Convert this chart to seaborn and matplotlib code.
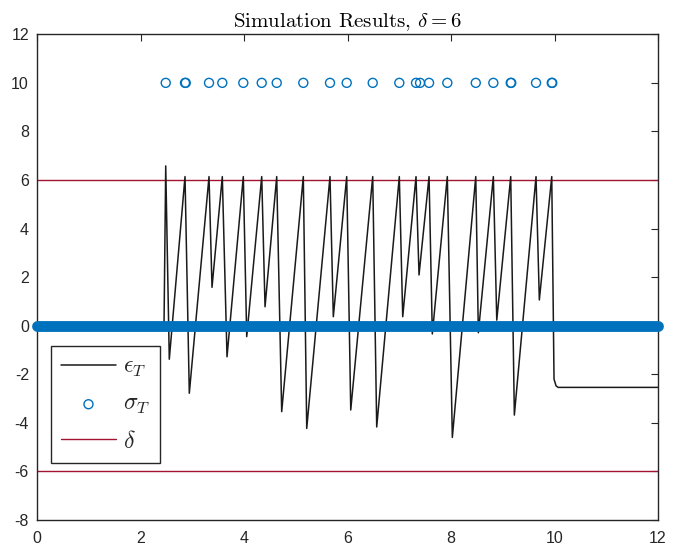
import matplotlib
matplotlib.use("Agg")
import matplotlib.pyplot as plt
import seaborn as sns

# Tracking error epsilon_T (vertices of the piecewise response)
eps_t = [0.0, 2.45, 2.483, 2.552, 2.856, 2.939, 3.320, 3.378, 3.577, 3.668,
         3.983, 4.049, 4.339, 4.403, 4.629, 4.725, 5.143, 5.209, 5.659, 5.723,
         5.982, 6.060, 6.485, 6.562, 6.999, 7.065, 7.322, 7.380, 7.574, 7.637,
         7.927, 8.024, 8.477, 8.527, 8.817, 8.883, 9.153, 9.223, 9.642, 9.706,
         9.946, 9.990, 10.03, 10.07, 12.0]
eps_v = [0.0, 0.0, 6.58, -1.38, 6.14, -2.78, 6.14, 1.58, 6.14, -1.28,
         6.14, -0.45, 6.14, 0.78, 6.14, -3.54, 6.14, -4.23, 6.14, 0.37,
         6.14, -3.47, 6.14, -4.17, 6.14, 0.37, 6.14, 2.09, 6.14, -0.34,
         6.14, -4.60, 6.14, -0.29, 6.14, 0.23, 6.14, -3.68, 6.14, 1.06,
         6.14, -2.20, -2.48, -2.54, -2.54]

# Triggering events sigma_T (marked at level 10)
sig_t = [2.483, 2.856, 2.870, 3.320, 3.577, 3.983, 4.339, 4.629, 5.143,
         5.659, 5.982, 6.485, 6.999, 7.322, 7.400, 7.574, 7.927, 8.477,
         8.817, 9.153, 9.163, 9.642, 9.946, 9.956]
sig_v = [10, 10, 10, 10, 10, 10, 10, 10, 10,
         10, 10, 10, 10, 10, 10, 10, 10, 10,
         10, 10, 10, 10, 10, 10]

# Non-event samples of sigma_T (level 0 over the whole horizon)
sig0_t = [0.0, 12.0]
sig0_v = [0.0, 0.0]

# Threshold delta
delta = 6
band_t = [0.0, 12.0]

x_ticks = [0, 2, 4, 6, 8, 10, 12]
y_ticks = [-8, -6, -4, -2, 0, 2, 4, 6, 8, 10, 12]

BLUE = "#0072BD"
RED = "#A2142F"
AX_COL = "#262626"

sns.set_style("white")
plt.rcParams["font.family"] = ["Liberation Sans", "DejaVu Sans"]
plt.rcParams["mathtext.fontset"] = "cm"
plt.rcParams["axes.unicode_minus"] = False

fig = plt.figure(figsize=(6.73, 5.54), dpi=100)
ax = fig.add_axes([0.0554, 0.0614, 0.9223, 0.8767])

sns.lineplot(x=band_t, y=[delta, delta], color=RED, lw=1.0, ax=ax,
             label=r"$\delta$", zorder=1)
sns.lineplot(x=band_t, y=[-delta, -delta], color=RED, lw=1.0, ax=ax,
             label="_nolegend_", zorder=1)

sns.lineplot(x=eps_t, y=eps_v, estimator=None, sort=False, color="#1a1a1a",
             lw=1.1, ax=ax, label=r"$\epsilon_T$", zorder=2)

sns.lineplot(x=sig0_t, y=sig0_v, color=BLUE, lw=7.8, ax=ax,
             solid_capstyle="round", clip_on=False, label="_nolegend_",
             zorder=3)

sns.scatterplot(x=sig_t, y=sig_v, marker="o", s=42, ax=ax,
                label=r"$\sigma_T$", zorder=4)
pts = ax.collections[-1]
pts.set_facecolor("none")
pts.set_edgecolor(BLUE)
pts.set_linewidth(1.0)

ax.set_xlim(0, 12)
ax.set_ylim(-8, 12)
ax.set_xticks(x_ticks)
ax.set_yticks(y_ticks)
ax.set_xlabel("")
ax.set_ylabel("")
ax.tick_params(direction="in", length=5, width=0.8, top=True, right=True,
               labelsize=11.5, colors=AX_COL)
ax.tick_params(axis="x", pad=8)
ax.tick_params(axis="y", pad=6)
for sp in ax.spines.values():
    sp.set_visible(True)
    sp.set_color(AX_COL)
    sp.set_linewidth(1.0)

ax.set_title(r"Simulation Results, $\delta = 6$", fontsize=15,
             fontfamily="cmr10", pad=5, color="black")

handles, labels = ax.get_legend_handles_labels()
order = [r"$\epsilon_T$", r"$\sigma_T$", r"$\delta$"]
hmap = dict(zip(labels, handles))
leg = ax.legend([hmap[k] for k in order], order, loc="upper left",
                bbox_to_anchor=(0.0216, 0.359), borderaxespad=0,
                fontsize=17, handlelength=2.3, handletextpad=0.3,
                labelspacing=0.6, borderpad=0.45, frameon=True,
                fancybox=False, edgecolor=AX_COL, framealpha=1,
                scatterpoints=1)
leg.get_frame().set_linewidth(1.0)

fig.savefig("out.png", dpi=100)
